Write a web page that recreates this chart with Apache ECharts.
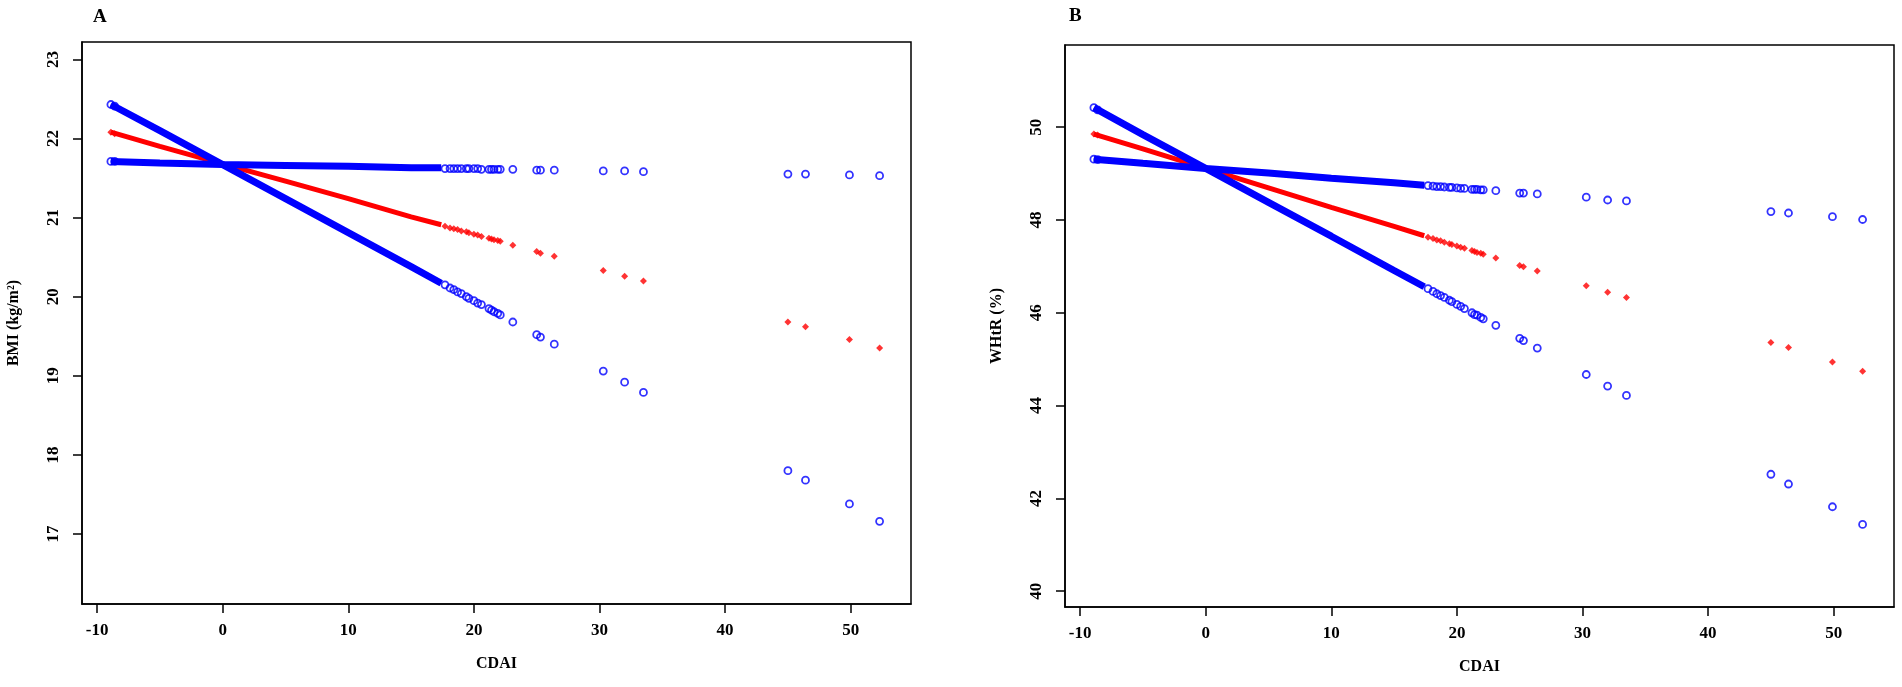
<!DOCTYPE html>
<html>
<head>
<meta charset="utf-8">
<script src="https://cdn.jsdelivr.net/npm/echarts@6/dist/echarts.min.js"></script>
<style>
    html, body { margin: 0; padding: 0; background: #fff; }
    #chart { width: 1902px; height: 687px; }
</style>
</head>
<body>
<div id="chart"></div>
<script>
// CDAI values: dense run (drawn as a thick band) and the separate points
var cdaiDense = [-8.9, -5, 0, 5, 10, 15, 17.4];
var cdaiSparse = [-8.9, -8.6, 17.7, 18.1, 18.4, 18.7, 19.0, 19.4, 19.6, 20.0, 20.3, 20.6, 21.2, 21.4,
    21.6, 21.9, 22.1, 23.1, 25.0, 25.3, 26.4, 30.3, 32.0, 33.5, 45.0, 46.4, 49.9, 52.3];

// panel A, BMI
var bmiFitDense   = [22.08, 21.90, 21.68, 21.46, 21.24, 21.01, 20.91];
var bmiUpperDense = [22.43, 22.10, 21.67, 21.66, 21.65, 21.63, 21.63];
var bmiLowerDense = [21.71, 21.69, 21.67, 21.24, 20.81, 20.38, 20.17];
var bmiFit   = [22.08, 22.06, 20.89, 20.87, 20.86, 20.85, 20.83, 20.82, 20.81, 20.79, 20.78, 20.76, 20.74, 20.73,
    20.72, 20.71, 20.70, 20.65, 20.57, 20.55, 20.51, 20.33, 20.26, 20.20, 19.68, 19.62, 19.46, 19.35];
var bmiUpper = [22.43, 22.41, 21.62, 21.62, 21.62, 21.62, 21.62, 21.62, 21.62, 21.62, 21.62, 21.61, 21.61, 21.61,
    21.61, 21.61, 21.61, 21.61, 21.60, 21.60, 21.60, 21.59, 21.59, 21.58, 21.55, 21.55, 21.54, 21.53];
var bmiLower = [21.71, 21.71, 20.15, 20.11, 20.09, 20.06, 20.04, 20.00, 19.98, 19.95, 19.92, 19.90, 19.85, 19.83,
    19.81, 19.79, 19.77, 19.68, 19.52, 19.49, 19.40, 19.06, 18.92, 18.79, 17.80, 17.68, 17.38, 17.16];

// panel B, WHtR
var whtrFitDense   = [49.85, 49.53, 49.11, 48.69, 48.27, 47.86, 47.66];
var whtrUpperDense = [50.42, 49.84, 49.11, 49.01, 48.90, 48.80, 48.75];
var whtrLowerDense = [49.31, 49.22, 49.11, 48.38, 47.65, 46.91, 46.56];
var whtrFit   = [49.85, 49.83, 47.63, 47.60, 47.57, 47.55, 47.52, 47.49, 47.47, 47.44, 47.41, 47.39, 47.34, 47.32,
    47.30, 47.28, 47.26, 47.18, 47.02, 46.99, 46.90, 46.58, 46.44, 46.33, 45.36, 45.25, 44.94, 44.74];
var whtrUpper = [50.42, 50.37, 48.74, 48.73, 48.72, 48.72, 48.71, 48.70, 48.70, 48.69, 48.68, 48.68, 48.66, 48.66,
    48.66, 48.65, 48.65, 48.63, 48.58, 48.58, 48.56, 48.49, 48.43, 48.41, 48.18, 48.15, 48.07, 48.01];
var whtrLower = [49.31, 49.30, 46.52, 46.46, 46.41, 46.37, 46.33, 46.27, 46.24, 46.18, 46.14, 46.09, 46.00, 45.96,
    45.95, 45.90, 45.87, 45.73, 45.45, 45.40, 45.24, 44.67, 44.42, 44.22, 42.52, 42.31, 41.82, 41.44];

var xTicks = [-10, 0, 10, 20, 30, 40, 50];
var bmiTicks = [17, 18, 19, 20, 21, 22, 23];
var whtrTicks = [40, 42, 44, 46, 48, 50];

var FONT = '"Liberation Serif", "Times New Roman", serif';
var BLUE = '#0000ff';
var RED = '#ff0000';

function zip(xs, ys) {
    var out = [];
    for (var i = 0; i < xs.length; i++) {
        out.push([xs[i], ys[i]]);
    }
    return out;
}

function makeX(idx) {
    return {
        type: 'value', gridIndex: idx, min: -11.2, max: 54.8,
        name: 'CDAI', nameLocation: 'middle', nameGap: 52,
        nameTextStyle: { fontFamily: FONT, fontWeight: 'bold', fontSize: 16, color: '#000' },
        axisLine: { show: true, onZero: false, lineStyle: { color: '#000', width: 1.5 } },
        axisTick: { show: true, length: 9, lineStyle: { color: '#000', width: 1.5 }, customValues: xTicks },
        axisLabel: { customValues: xTicks, margin: 18, fontFamily: FONT, fontWeight: 'bold', fontSize: 17, color: '#000' },
        splitLine: { show: false }
    };
}

function makeY(idx, name, min, max, ticks) {
    return {
        type: 'value', gridIndex: idx, min: min, max: max,
        name: name, nameLocation: 'middle', nameGap: 60,
        nameTextStyle: { fontFamily: FONT, fontWeight: 'bold', fontSize: 16, color: '#000' },
        axisLine: { show: true, onZero: false, lineStyle: { color: '#000', width: 1.5 } },
        axisTick: { show: true, length: 9, lineStyle: { color: '#000', width: 1.5 }, customValues: ticks },
        axisLabel: { customValues: ticks, rotate: 90, margin: 20, fontFamily: FONT, fontWeight: 'bold', fontSize: 17, color: '#000' },
        splitLine: { show: false }
    };
}

// one panel = red fitted line + blue upper/lower bounds
function panelSeries(idx, fitD, upD, loD, fit, up, lo) {
    var band = function(ys, color, w) {
        return {
            type: 'line', xAxisIndex: idx, yAxisIndex: idx, data: zip(cdaiDense, ys),
            showSymbol: false, silent: true, lineStyle: { color: color, width: w }
        };
    };
    var circles = function(ys) {
        return {
            type: 'scatter', xAxisIndex: idx, yAxisIndex: idx, data: zip(cdaiSparse, ys),
            symbol: 'circle', symbolSize: 7, silent: true,
            itemStyle: { color: 'rgba(0,0,0,0)', borderColor: BLUE, borderWidth: 1.8 }
        };
    };
    return [
        band(fitD, RED, 5),
        {
            type: 'scatter', xAxisIndex: idx, yAxisIndex: idx, data: zip(cdaiSparse, fit),
            symbol: 'diamond', symbolSize: 7, silent: true, itemStyle: { color: RED }
        },
        band(upD, BLUE, 7),
        band(loD, BLUE, 7),
        circles(up),
        circles(lo)
    ];
}

var chart = echarts.init(document.getElementById('chart'));

var series = panelSeries(0, bmiFitDense, bmiUpperDense, bmiLowerDense, bmiFit, bmiUpper, bmiLower)
    .concat(panelSeries(1, whtrFitDense, whtrUpperDense, whtrLowerDense, whtrFit, whtrUpper, whtrLower));

chart.setOption({
    animation: false,
    backgroundColor: '#fff',
    title: [
        { text: 'A', left: 88, top: 3, textStyle: { fontFamily: FONT, fontWeight: 'bold', fontSize: 19, color: '#000' } },
        { text: 'B', left: 1064, top: 2, textStyle: { fontFamily: FONT, fontWeight: 'bold', fontSize: 19, color: '#000' } }
    ],
    grid: [
        { left: 82, top: 42, width: 829, height: 562, show: true, borderColor: '#000', borderWidth: 1.5, backgroundColor: '#fff' },
        { left: 1065, top: 45, width: 829, height: 562, show: true, borderColor: '#000', borderWidth: 1.5, backgroundColor: '#fff' }
    ],
    xAxis: [makeX(0), makeX(1)],
    yAxis: [
        makeY(0, 'BMI (kg/m²)', 16.115, 23.22, bmiTicks),
        makeY(1, 'WHtR (%)', 39.66, 51.77, whtrTicks)
    ],
    series: series
});
</script>
</body>
</html>
